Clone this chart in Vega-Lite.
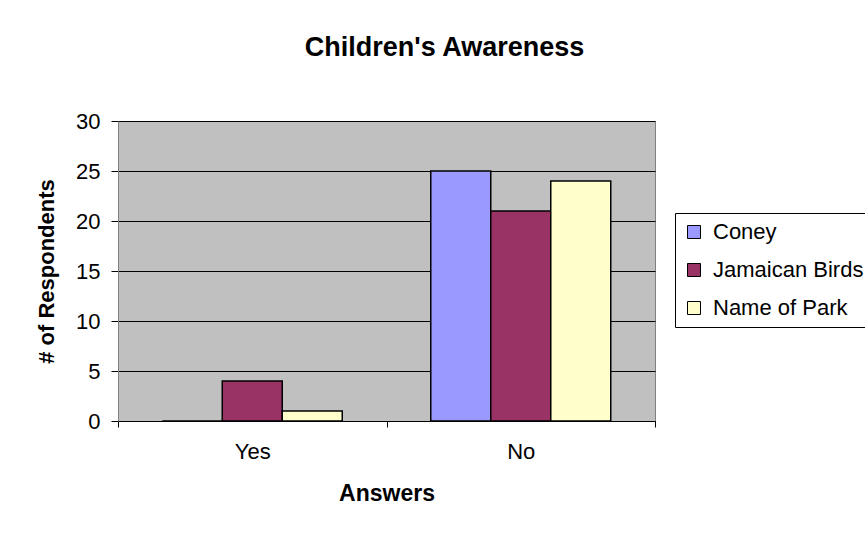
{
  "$schema": "https://vega.github.io/schema/vega-lite/v6.json",
  "width": 537,
  "height": 300,
  "autosize": {"type": "none"},
  "padding": {"left": 118, "top": 121, "right": 210, "bottom": 112},
  "background": "white",
  "title": {
    "text": "Children's Awareness",
    "font": "Liberation Sans",
    "fontSize": 27,
    "fontWeight": "bold",
    "color": "black",
    "anchor": "middle",
    "frame": "group",
    "baseline": "alphabetic",
    "offset": 27,
    "dx": 58
  },
  "data": {
    "values": [
      {"answer": "Yes", "series": "Coney", "count": 0},
      {"answer": "Yes", "series": "Jamaican Birds", "count": 4},
      {"answer": "Yes", "series": "Name of Park", "count": 1},
      {"answer": "No", "series": "Coney", "count": 25},
      {"answer": "No", "series": "Jamaican Birds", "count": 21},
      {"answer": "No", "series": "Name of Park", "count": 24}
    ]
  },
  "mark": {"type": "bar", "stroke": "black", "strokeWidth": 1.5},
  "encoding": {
    "x": {
      "field": "answer",
      "type": "nominal",
      "sort": ["Yes", "No"],
      "scale": {"paddingInner": 0, "paddingOuter": 0},
      "axis": {
        "title": "Answers",
        "labelAngle": 0,
        "tickBand": "extent",
        "tickSize": 6,
        "tickColor": "black",
        "domainColor": "black",
        "labelPadding": 14,
        "labelFontSize": 22,
        "labelFont": "Liberation Sans",
        "labelColor": "black",
        "titleFont": "Liberation Sans",
        "titleFontSize": 23,
        "titleFontWeight": "bold",
        "titleColor": "black",
        "titlePadding": 20,
        "grid": false
      }
    },
    "xOffset": {
      "field": "series",
      "type": "nominal",
      "sort": ["Coney", "Jamaican Birds", "Name of Park"],
      "scale": {"paddingInner": 0, "paddingOuter": 0.7375}
    },
    "y": {
      "field": "count",
      "type": "quantitative",
      "scale": {"domain": [0, 30], "nice": false},
      "axis": {
        "title": "# of Respondents",
        "values": [0, 5, 10, 15, 20, 25, 30],
        "tickSize": 7,
        "tickColor": "black",
        "domainColor": "#808080",
        "labelPadding": 11,
        "labelFontSize": 22,
        "labelFont": "Liberation Sans",
        "labelColor": "black",
        "titleFont": "Liberation Sans",
        "titleFontSize": 22,
        "titleFontWeight": "bold",
        "titleColor": "black",
        "titlePadding": 17,
        "grid": true,
        "gridColor": "black",
        "gridOpacity": 1,
        "gridWidth": 1
      }
    },
    "color": {
      "field": "series",
      "type": "nominal",
      "sort": ["Coney", "Jamaican Birds", "Name of Park"],
      "scale": {
        "domain": ["Coney", "Jamaican Birds", "Name of Park"],
        "range": ["#9999FF", "#993366", "#FFFFCC"]
      },
      "legend": {
        "title": null,
        "orient": "none",
        "legendX": 557,
        "legendY": 92,
        "strokeColor": "black",
        "fillColor": "white",
        "padding": 8,
        "symbolType": "square",
        "symbolSize": 169,
        "symbolStrokeColor": "black",
        "symbolStrokeWidth": 1,
        "symbolOpacity": 1,
        "labelFont": "Liberation Sans",
        "labelFontSize": 22,
        "labelColor": "black",
        "labelOffset": 8,
        "rowPadding": 16
      }
    }
  },
  "config": {
    "view": {"fill": "#C0C0C0", "stroke": "#808080", "strokeWidth": 1}
  }
}
